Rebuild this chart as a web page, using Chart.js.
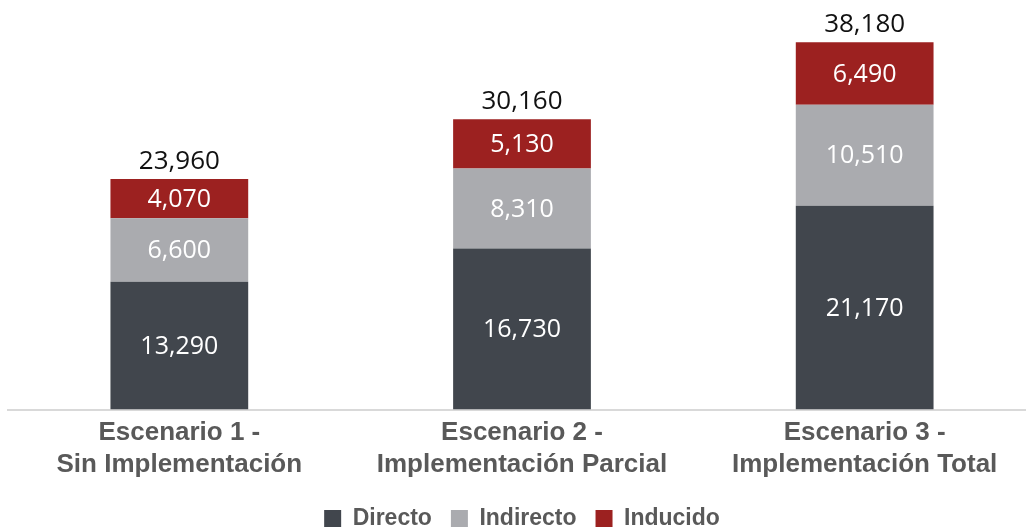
<!DOCTYPE html>
<html>
<head>
<meta charset="utf-8">
<script src="https://cdn.jsdelivr.net/npm/chart.js@4/dist/chart.umd.min.js"></script>
<style>
  html, body { margin: 0; padding: 0; background: #ffffff; overflow: hidden; }
  #wrap { width: 1040px; height: 540px; position: relative; }
</style>
</head>
<body>
<div id="wrap"><canvas id="c"></canvas></div>
<script>
// Scenario categories (two-line axis labels)
const categories = [
  ['Escenario 1 -', 'Sin Implementación'],
  ['Escenario 2 -', 'Implementación Parcial'],
  ['Escenario 3 -', 'Implementación Total']
];
// Employment impact by type
const directo   = [13290, 16730, 21170];
const indirecto = [6600, 8310, 10510];
const inducido  = [4070, 5130, 6490];
// Totals printed above each bar
const totals    = [23960, 30160, 38180];

const fmt = v => v.toLocaleString('en-US');

// Writes segment values inside the bars and totals on top
const valueLabels = {
  id: 'valueLabels',
  afterDatasetsDraw(chart) {
    const ctx = chart.ctx;
    ctx.save();
    ctx.textAlign = 'center';
    ctx.textBaseline = 'middle';
    ctx.font = '25px "Open Sans", sans-serif';
    ctx.fillStyle = '#ffffff';
    chart.data.datasets.forEach((ds, di) => {
      const meta = chart.getDatasetMeta(di);
      meta.data.forEach((bar, i) => {
        const y = (bar.y + bar.base) / 2;
        ctx.fillText(fmt(ds.data[i]), bar.x, y + 1);
      });
    });
    const top = chart.getDatasetMeta(chart.data.datasets.length - 1);
    ctx.font = '26px "Open Sans", sans-serif';
    ctx.fillStyle = '#111111';
    ctx.textBaseline = 'alphabetic';
    top.data.forEach((bar, i) => {
      ctx.fillText(fmt(totals[i]), bar.x, bar.y - 10);
    });
    ctx.restore();
  }
};

new Chart(document.getElementById('c'), {
  type: 'bar',
  data: {
    labels: categories,
    datasets: [
      { label: 'Directo',   data: directo,   backgroundColor: '#41464d' },
      { label: 'Indirecto', data: indirecto, backgroundColor: '#aaabaf' },
      { label: 'Inducido',  data: inducido,  backgroundColor: '#9c2120' }
    ]
  },
  options: {
    responsive: true,
    maintainAspectRatio: false,
    animation: false,
    layout: { padding: { left: 8, right: 4, top: 0, bottom: 0 } },
    datasets: {
      bar: { categoryPercentage: 1.0, barPercentage: 0.402, borderWidth: 0 }
    },
    scales: {
      x: {
        stacked: true,
        grid: { display: false, drawTicks: false },
        border: { display: true, color: '#d9d9d9', width: 2 },
        ticks: {
          color: '#595959',
          font: { family: '"Liberation Sans", Arial, sans-serif', size: 26, weight: 'bold', lineHeight: 1.2 },
          padding: 8,
          maxRotation: 0,
          autoSkip: false
        }
      },
      y: {
        stacked: true,
        display: false,
        min: 0,
        max: 42550
      }
    },
    plugins: {
      legend: {
        position: 'bottom',
        labels: {
          color: '#595959',
          font: { family: '"Liberation Sans", Arial, sans-serif', size: 23, weight: 'bold' },
          boxWidth: 17,
          boxHeight: 17,
          padding: 19
        }
      },
      tooltip: { enabled: false }
    }
  },
  plugins: [valueLabels]
});
</script>
</body>
</html>
